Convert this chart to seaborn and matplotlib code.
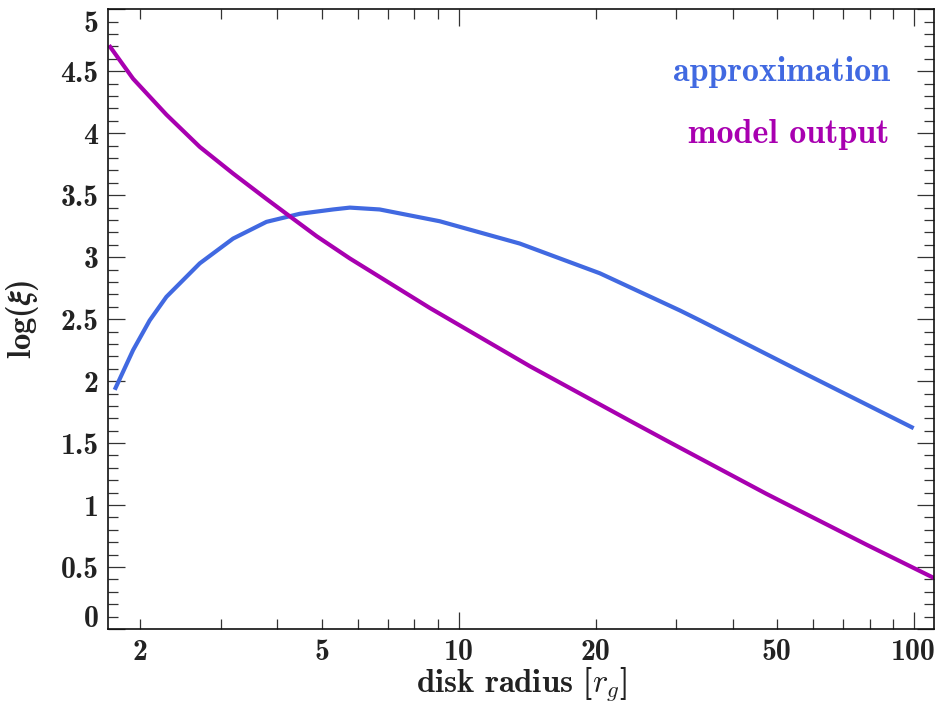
import numpy as np
import pandas as pd
import matplotlib
matplotlib.use("Agg")
import matplotlib.pyplot as plt
import matplotlib.transforms as mtransforms
from matplotlib.ticker import FixedLocator, FixedFormatter
import seaborn as sns

# ---- data ----
model_r = [1.706, 1.927, 2.281, 2.70, 3.196, 3.784, 4.186, 4.874, 5.768,
           8.65, 14.35, 23.79, 28.65, 47.5, 78.8, 111.0]
model_logxi = [4.71, 4.44, 4.15, 3.89, 3.675, 3.47, 3.35, 3.17, 2.99,
               2.59, 2.12, 1.68, 1.52, 1.09, 0.68, 0.41]

approx_r = [1.756, 1.927, 2.096, 2.281, 2.70, 3.196, 3.784, 4.478, 5.30,
            5.77, 6.71, 9.09, 13.63, 20.44, 30.65, 33.92, 56.3, 100.0]
approx_logxi = [1.93, 2.25, 2.49, 2.68, 2.95, 3.15, 3.285, 3.35, 3.385,
                3.40, 3.385, 3.29, 3.11, 2.87, 2.57, 2.49, 2.08, 1.62]

x_major_ticks = [10, 100]
x_major_labels = ["10", "100"]
x_minor_ticks = [2, 3, 4, 5, 6, 7, 8, 9, 20, 30, 40, 50, 60, 70, 80, 90]
x_minor_labels = ["2", "", "", "5", "", "", "", "", "20", "", "", "50", "", "", "", ""]
y_major_ticks = [0, 0.5, 1, 1.5, 2, 2.5, 3, 3.5, 4, 4.5, 5]
y_major_labels = ["0", "0.5", "1", "1.5", "2", "2.5", "3", "3.5", "4", "4.5", "5"]
y_minor_ticks = [round(0.1 * i, 1) for i in range(51)]

series_names = ["approximation", "model output"]
series_colors = ["#4169E1", "#A800B0"]

# ---- style ----
sns.set_theme(style="ticks")
plt.rcParams["font.family"] = ["cmb10", "DejaVu Serif"]
plt.rcParams["mathtext.fontset"] = "cm"
plt.rcParams["axes.unicode_minus"] = False

fig = plt.figure(figsize=(9.42, 7.01), dpi=100)
ax = fig.add_axes([108.3 / 942, 1 - 629 / 701, (934.3 - 108.3) / 942, (629 - 9.3) / 701])

df_a = pd.DataFrame({"r": approx_r, "logxi": approx_logxi})
df_m = pd.DataFrame({"r": model_r, "logxi": model_logxi})
sns.lineplot(data=df_a, x="r", y="logxi", ax=ax, color=series_colors[0], lw=3.0,
             sort=False, estimator=None, solid_capstyle="butt", solid_joinstyle="round")
sns.lineplot(data=df_m, x="r", y="logxi", ax=ax, color=series_colors[1], lw=3.0,
             sort=False, estimator=None, solid_capstyle="butt", solid_joinstyle="round")

ax.set_xscale("log")
ax.set_xlim(1.70, 111.0)
ax.set_ylim(0, 5)

ax.xaxis.set_major_locator(FixedLocator(x_major_ticks))
ax.xaxis.set_major_formatter(FixedFormatter(x_major_labels))
ax.xaxis.set_minor_locator(FixedLocator(x_minor_ticks))
ax.xaxis.set_minor_formatter(FixedFormatter(x_minor_labels))
ax.yaxis.set_major_locator(FixedLocator(y_major_ticks))
ax.yaxis.set_major_formatter(FixedFormatter(y_major_labels))
ax.yaxis.set_minor_locator(FixedLocator(y_minor_ticks))

tick_color = "#333333"
ax.tick_params(which="both", direction="in", top=True, right=True,
               colors=tick_color, labelcolor="#222222", labelsize=21.5, width=0.9)
ax.tick_params(which="major", length=12.5)
ax.tick_params(which="minor", length=7.5)
ax.tick_params(axis="x", which="both", pad=7)
ax.tick_params(axis="y", which="both", pad=7)

for s in ax.spines.values():
    s.set_linewidth(1.2)
    s.set_color("#111111")

# shift the end y labels inward, as in the reference
yt = ax.yaxis.get_major_ticks()
off = 9.0 / 72
yt[0].label1.set_transform(yt[0].label1.get_transform() +
                           mtransforms.ScaledTranslation(0, off, fig.dpi_scale_trans))
yt[-1].label1.set_transform(yt[-1].label1.get_transform() +
                            mtransforms.ScaledTranslation(0, -off, fig.dpi_scale_trans))

label_size = 23.5
text_size = 24.5
ax.set_xlabel(r"disk radius [$\boldsymbol{r_g}$]", fontsize=label_size, color="#222222")
ax.set_ylabel(r"log($\boldsymbol{\xi}$)", fontsize=label_size, color="#222222")
try:
    fig.canvas.draw()
except Exception:
    ax.set_xlabel(r"disk radius [$r_g$]", fontsize=label_size, color="#222222")
    ax.set_ylabel(r"log($\xi$)", fontsize=label_size, color="#222222")
ax.xaxis.label.set_va("baseline")
ax.xaxis.set_label_coords(0.5, (629 - 691) / 620)
ax.yaxis.set_label_coords((41 - 108.3) / 826, 0.5)

ax.text(0.946, 0.885, series_names[0], transform=ax.transAxes, ha="right",
        va="baseline", fontsize=text_size, color=series_colors[0])
ax.text(0.946, 0.785, series_names[1], transform=ax.transAxes, ha="right",
        va="baseline", fontsize=text_size, color=series_colors[1])

fig.savefig("out.png", dpi=100)
